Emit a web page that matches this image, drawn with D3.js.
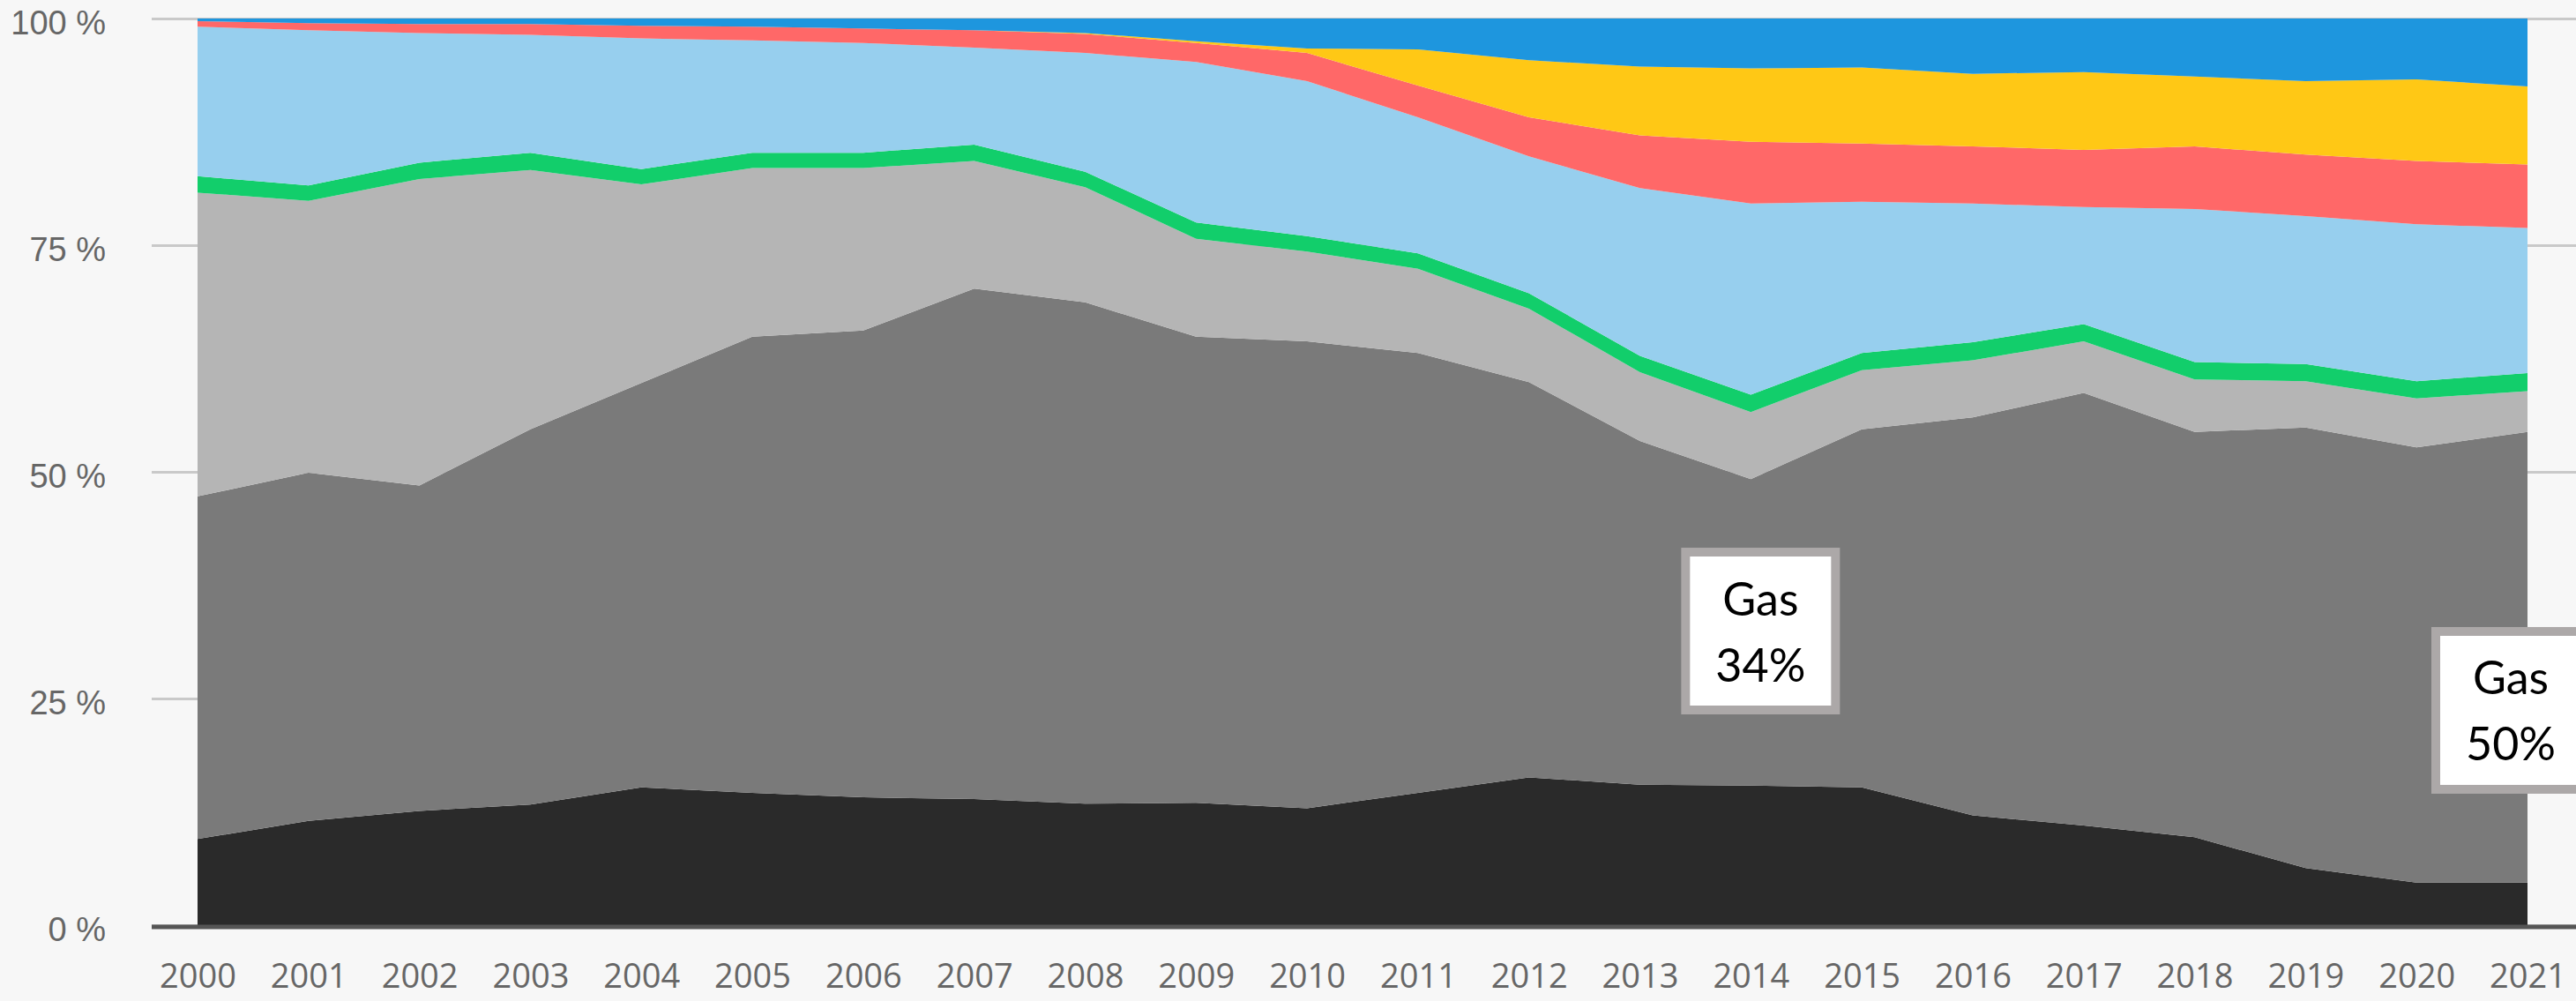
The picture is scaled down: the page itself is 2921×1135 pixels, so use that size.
<!DOCTYPE html>
<html>
<head>
<meta charset="utf-8">
<script src="https://cdn.jsdelivr.net/npm/d3@7"></script>
<style>
	body { margin: 0; background: #f7f7f7; }
	svg { display: block; }
</style>
</head>
<body>
<div id="chart-area"></div>
<script>
/*
*    electricity mix 2000-2021, stacked shares
*/

// Data
var years = [2000, 2001, 2002, 2003, 2004, 2005, 2006, 2007, 2008, 2009, 2010,
	2011, 2012, 2013, 2014, 2015, 2016, 2017, 2018, 2019, 2020, 2021];

var seriesNames = ["coal", "gas", "oil", "bio", "hydro", "wind", "solar", "other"];

var coal  = [9.5, 11.5, 12.6, 13.3, 15.2, 14.6, 14.1, 13.9, 13.4, 13.5, 12.9, 14.6, 16.3, 15.5, 15.4, 15.2, 12.1, 11.0, 9.7, 6.3, 4.7, 4.7];
var gas   = [37.8, 38.4, 35.9, 41.4, 44.6, 50.3, 51.5, 56.3, 55.3, 51.4, 51.5, 48.5, 43.6, 37.9, 33.8, 39.5, 43.9, 47.7, 44.7, 48.6, 48.0, 49.7];
var oil   = [33.5, 30.0, 33.8, 28.6, 21.9, 18.6, 17.9, 14.1, 12.7, 10.8, 9.9, 9.3, 8.1, 7.6, 7.4, 6.5, 6.3, 5.7, 5.8, 5.1, 5.4, 4.5];
var bio   = [1.8, 1.7, 1.8, 1.9, 1.7, 1.7, 1.7, 1.8, 1.7, 1.8, 1.7, 1.7, 1.7, 1.8, 1.9, 1.9, 2.0, 1.9, 1.9, 1.9, 1.9, 2.0];
var hydro = [16.5, 17.1, 14.3, 13.0, 14.4, 12.4, 12.1, 10.7, 13.1, 17.7, 17.1, 15.0, 15.1, 18.5, 21.1, 16.7, 15.3, 12.9, 16.9, 16.3, 17.3, 16.0];
var wind  = [0.6, 0.8, 1.0, 1.2, 1.4, 1.5, 1.6, 1.9, 2.1, 2.1, 3.1, 3.5, 4.3, 5.8, 6.8, 6.4, 6.3, 6.3, 6.9, 6.8, 7.0, 7.0];
var solar = [0.0, 0.0, 0.0, 0.0, 0.0, 0.0, 0.0, 0.0, 0.1, 0.2, 0.5, 4.0, 6.3, 7.6, 8.1, 8.4, 8.0, 8.6, 7.7, 8.1, 9.0, 8.6];
var other = [0.3, 0.5, 0.6, 0.6, 0.8, 0.9, 1.1, 1.3, 1.6, 2.5, 3.3, 3.4, 4.6, 5.3, 5.5, 5.4, 6.1, 5.9, 6.4, 6.9, 6.7, 7.5];

var yTicks = [0, 0.25, 0.5, 0.75, 1];

var annotations = [
	{ year: 2014, lines: ["Gas", "34%"] },
	{ year: 2021, lines: ["Gas", "50%"] }
];

// Layout
var margin = { left: 224, right: 55, top: 21, bottom: 86 };
var width = 2921 - margin.left - margin.right;
var height = 1135 - margin.top - margin.bottom;

var colors = {
	coal: "#2a2a2a", gas: "#7a7a7a", oil: "#b5b5b5", bio: "#12ce6b",
	hydro: "#97cfee", wind: "#ff6868", solar: "#ffc815", other: "#1e96de"
};

// where each annotation box sits: offset from its year, and centre as share
var boxPos = [
	{ dx: 11, share: 0.3244 },
	{ dx: -19, share: 0.2369 }
];

var table = years.map(function(yr, i) {
	return { year: yr, coal: coal[i], gas: gas[i], oil: oil[i], bio: bio[i],
		hydro: hydro[i], wind: wind[i], solar: solar[i], other: other[i] };
});

var svg = d3.select("#chart-area").append("svg")
	.attr("width", width + margin.left + margin.right)
	.attr("height", height + margin.top + margin.bottom);

svg.append("rect")
	.attr("width", width + margin.left + margin.right)
	.attr("height", height + margin.top + margin.bottom)
	.attr("fill", "#f7f7f7");

var g = svg.append("g")
	.attr("transform", "translate(" + margin.left + ", " + margin.top + ")");

// Scales
var x = d3.scaleLinear()
	.domain([2000, 2021])
	.range([0, width]);

var y = d3.scaleLinear()
	.domain([0, 1])
	.range([height, 0]);

// Y axis as gridlines running past both sides of the plot
var yAxisGroup = g.append("g")
	.attr("class", "y axis")
	.attr("transform", "translate(" + (width + margin.right) + ", 0)");

yAxisGroup.call(d3.axisLeft(y)
	.tickValues(yTicks)
	.tickSize(width + margin.right + 52)
	.tickPadding(52)
	.tickFormat(function(d) { return Math.round(d * 100) + " %"; }));

yAxisGroup.select(".domain").remove();
yAxisGroup.selectAll("line")
	.attr("stroke", "#c9c9c9")
	.attr("stroke-width", 3);
yAxisGroup.selectAll("text")
	.attr("dy", "0.45em")
	.style("font-family", "'Liberation Sans', Arial, sans-serif")
	.style("font-size", "38px")
	.attr("fill", "#666");

// Stacked areas
var stack = d3.stack()
	.keys(seriesNames)
	.offset(d3.stackOffsetExpand);

var layers = stack(table);

var area = d3.area()
	.x(function(d) { return x(d.data.year); })
	.y0(function(d) { return y(d[0]); })
	.y1(function(d) { return y(d[1]); });

g.selectAll(".layer")
	.data(layers)
	.enter().append("path")
	.attr("class", "layer")
	.attr("fill", function(d) { return colors[d.key]; })
	.attr("d", area);

// baseline
g.append("line")
	.attr("x1", -52)
	.attr("x2", width + margin.right)
	.attr("y1", y(0) + 2)
	.attr("y2", y(0) + 2)
	.attr("stroke", "#555")
	.attr("stroke-width", 5);

// X axis
var xAxisGroup = g.append("g")
	.attr("class", "x axis")
	.attr("transform", "translate(0, " + height + ")");

xAxisGroup.call(d3.axisBottom(x)
	.tickValues(years)
	.tickSize(0)
	.tickPadding(44)
	.tickFormat(d3.format("d")));

xAxisGroup.select(".domain").remove();
xAxisGroup.selectAll("text")
	.style("font-family", "'Open Sans', sans-serif")
	.style("font-size", "38px")
	.attr("fill", "#666");

// Annotation boxes
annotations.forEach(function(a, i) {
	var cx = x(a.year) + boxPos[i].dx;
	var cy = y(boxPos[i].share);

	var box = g.append("g")
		.attr("transform", "translate(" + cx + ", " + cy + ")");

	box.append("rect")
		.attr("x", -85)
		.attr("y", -89.5)
		.attr("width", 170)
		.attr("height", 179)
		.attr("fill", "#fff")
		.attr("stroke", "#aca8a8")
		.attr("stroke-width", 10);

	box.selectAll("text")
		.data(a.lines)
		.enter().append("text")
		.attr("x", 0)
		.attr("y", function(d, j) { return j === 0 ? -18 : 57; })
		.attr("text-anchor", "middle")
		.style("font-family", "Lato, sans-serif")
		.style("font-size", "52px")
		.attr("fill", "#000")
		.text(function(d) { return d; });
});
</script>
</body>
</html>
